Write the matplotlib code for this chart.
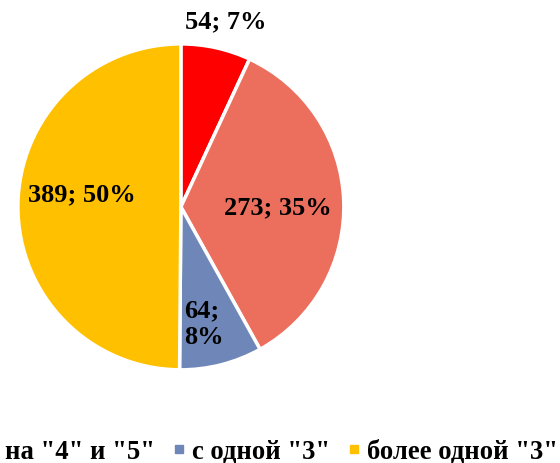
import matplotlib.pyplot as plt
from matplotlib.lines import Line2D

plt.rcParams['font.family'] = ['Liberation Serif', 'DejaVu Serif']

categories = ['на "5"', 'на "4" и "5"', 'с одной "3"', 'более одной "3"']
values = [54, 273, 64, 389]
colors = ['#FF0000', '#EC6F5E', '#6F87B8', '#FFC000']
# label spots in data units (pie radius = 1)
label_pos = [(0.276, 1.14), (0.595, 0.0), (0.02, -0.715), (-0.607, 0.08)]

fig = plt.figure(figsize=(5.6, 4.64), dpi=100)
ax = fig.add_axes([0.032, 0.2007, 0.582, 0.7026])

ax.pie(values, colors=colors, startangle=90, counterclock=False,
       wedgeprops=dict(edgecolor='white', linewidth=2.5))
ax.set_xlim(-1, 1)
ax.set_ylim(-1, 1)
ax.set_aspect('equal')

total = sum(values)
for i, (v, (x, y)) in enumerate(zip(values, label_pos)):
    if i == 2:
        txt = f'{v};\n{round(v / total * 100)}%'
        ha = 'left'
    else:
        txt = f'{v}; {round(v / total * 100)}%'
        ha = 'center'
    ax.text(x, y, txt, ha=ha, va='center', fontsize=19,
            fontweight='bold', linespacing=1.2, clip_on=False)

handles = [Line2D([], [], marker='s', linestyle='none', markersize=5.8,
                  markerfacecolor=c, markeredgecolor=c) for c in colors]
fig.legend(handles, categories, loc='center right', ncol=4,
           bbox_to_anchor=(0.997, 0.024), frameon=False,
           prop=dict(size=19.2, weight='bold'),
           handlelength=0.3, handletextpad=0.35, columnspacing=0.75,
           borderaxespad=0, borderpad=0)

fig.savefig('out.png', dpi=100)
